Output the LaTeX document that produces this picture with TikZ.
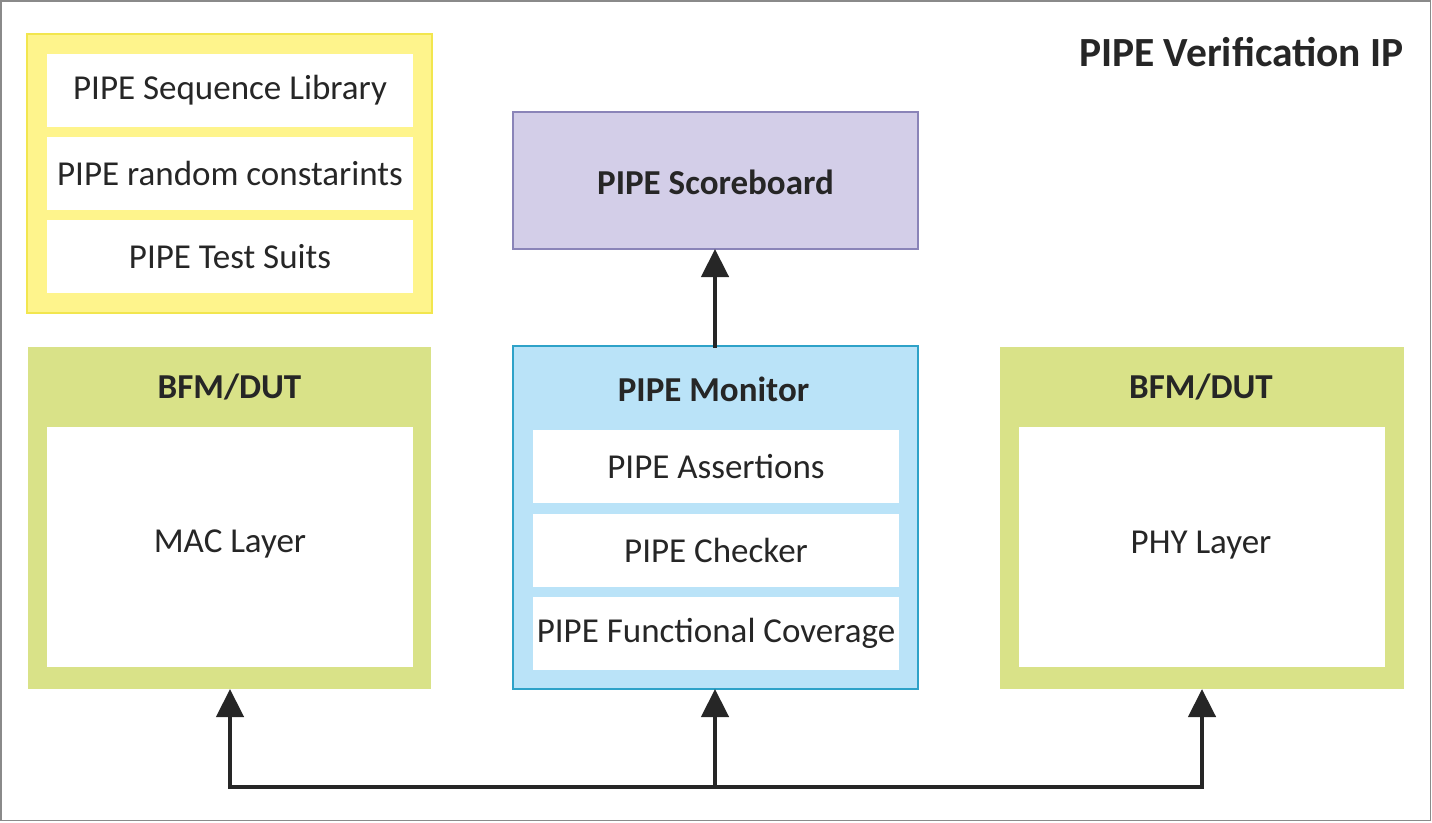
\documentclass[tikz,border=0pt]{standalone}
\usepackage{fontspec}
\setmainfont{Carlito}
\usetikzlibrary{arrows.meta}
\definecolor{txt}{HTML}{262626}
\definecolor{yelfill}{HTML}{FEF48C}
\definecolor{yeldraw}{HTML}{F2E64E}
\definecolor{grnfill}{HTML}{D9E288}
\definecolor{purfill}{HTML}{D3CEE8}
\definecolor{purdraw}{HTML}{8A84B8}
\definecolor{bluefill}{HTML}{BAE3F8}
\definecolor{bluedraw}{HTML}{2EA2C8}
\definecolor{frame}{HTML}{8A8A8A}
\begin{document}
\begin{tikzpicture}[x=1pt,y=-1pt,
  box/.style={rectangle,inner sep=0pt,outer sep=0pt,minimum width=#1},
  inner/.style={box=366pt,fill=white,minimum height=73pt,text=txt,font=\fontsize{35}{40}\selectfont},
  plain/.style={text=txt,font=\fontsize{35}{40}\selectfont,inner sep=0pt},
  ttl/.style={text=txt,font=\bfseries\fontsize{35}{40}\selectfont,inner sep=0pt},
  conn/.style={line width=4.5pt,draw=txt,line cap=rect},
  arr/.style={conn,-{Triangle[length=28pt,width=27pt]}}]
\useasboundingbox (0,0) rectangle (1432,822);
\draw[frame,line width=1.5pt] (0.75,0.75) rectangle (1430.5,820.5);
% title
\node[ttl,anchor=east,font=\bfseries\fontsize{41.5}{46}\selectfont] (title) at (1404,52) {PIPE Verification IP};
% yellow group
\node[box=405pt,minimum height=279pt,fill=yelfill,draw=yeldraw,line width=1.5pt] (lib) at (229.5,173.5) {};
\node[inner] (seq) at (230,90) {PIPE Sequence Library};
\node[inner] (rnd) at (230,173.5) {PIPE random constarints};
\node[inner] (suit) at (230,256.5) {PIPE Test Suits};
% scoreboard
\node[box=405pt,minimum height=137pt,fill=purfill,draw=purdraw,line width=1.5pt] (sb) at (715.5,180.5) {};
\node[ttl] (sbt) at (715.5,182) {PIPE Scoreboard};
% monitor
\node[box=405pt,minimum height=343pt,fill=bluefill,draw=bluedraw,line width=1.5pt] (mon) at (715.5,517.5) {};
\node[ttl] (mont) at (713.5,389) {PIPE Monitor};
\node[inner] (asr) at (716,466.5) {PIPE Assertions};
\node[inner] (chk) at (716,550.5) {PIPE Checker};
\node[inner] (cov) at (716,633.5) {PIPE Functional Coverage};
% left BFM
\node[box=403pt,minimum height=342pt,fill=grnfill] (lbfm) at (229.5,518) {};
\node[ttl] (lbt) at (229.5,387) {BFM/DUT};
\node[inner,minimum height=240pt] (mac) at (230,547) {};
\node[plain] (mact) at (230,544) {MAC Layer};
% right BFM
\node[box=404pt,minimum height=342pt,fill=grnfill] (rbfm) at (1202,518) {};
\node[ttl] (rbt) at (1201,387) {BFM/DUT};
\node[inner,minimum height=240pt] (phy) at (1202,547) {};
\node[plain] (phyt) at (1201,545) {PHY Layer};
% connectors
\coordinate (bl) at (230,787);
\coordinate (bm) at (715,787);
\coordinate (br) at (1202,787);
\draw[arr] (mon.north -| bm) -- (sb.south -| bm);
\draw[conn] (bl) -- (br);
\draw[arr,line cap=butt] (bl) -- (bl |- lbfm.south);
\draw[arr,line cap=butt] (bm) -- (mon.south -| bm);
\draw[arr,line cap=butt] (br) -- (br |- rbfm.south);
\end{tikzpicture}
\end{document}
